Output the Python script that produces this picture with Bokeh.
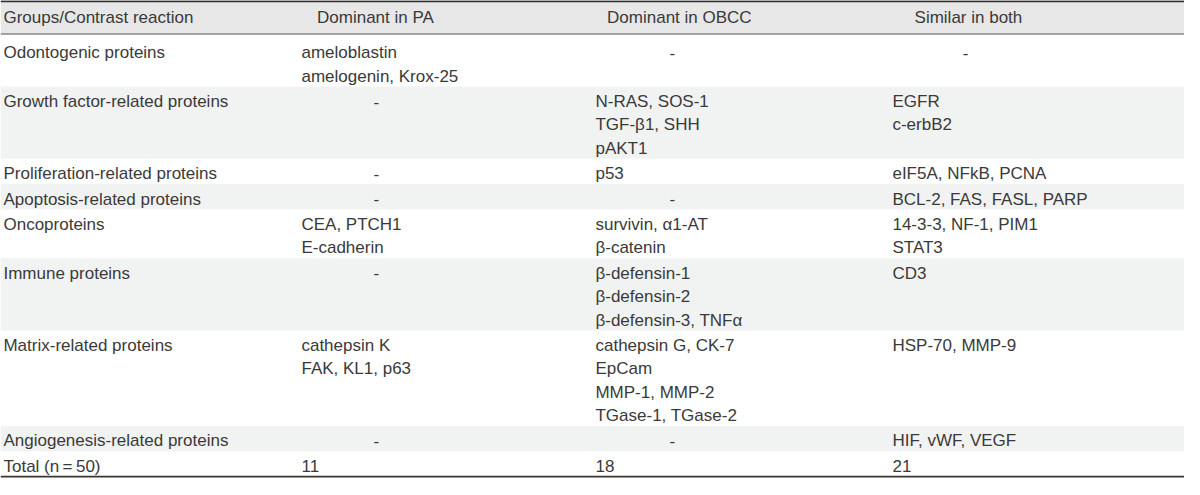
from bokeh.plotting import figure
from bokeh.models import Range1d, ColumnDataSource
from bokeh.core.properties import value
from bokeh.embed import file_html
from bokeh.resources import INLINE

# ---- data ----
headers = ["Groups/Contrast reaction", "Dominant in PA", "Dominant in OBCC", "Similar in both"]
groups = ["Odontogenic proteins", "Growth factor-related proteins", "Proliferation-related proteins",
          "Apoptosis-related proteins", "Oncoproteins", "Immune proteins", "Matrix-related proteins",
          "Angiogenesis-related proteins", "Total (n\u2009=\u200950)"]
dominant_pa = [["ameloblastin", "amelogenin, Krox-25"], ["-"], ["-"], ["-"],
               ["CEA, PTCH1", "E-cadherin"], ["-"], ["cathepsin K", "FAK, KL1, p63"], ["-"], ["11"]]
dominant_obcc = [["-"], ["N-RAS, SOS-1", "TGF-\u03b21, SHH", "pAKT1"], ["p53"], ["-"],
                 ["survivin, \u03b11-AT", "\u03b2-catenin"],
                 ["\u03b2-defensin-1", "\u03b2-defensin-2", "\u03b2-defensin-3, TNF\u03b1"],
                 ["cathepsin G, CK-7", "EpCam", "MMP-1, MMP-2", "TGase-1, TGase-2"], ["-"], ["18"]]
similar_both = [["-"], ["EGFR", "c-erbB2"], ["eIF5A, NFkB, PCNA"], ["BCL-2, FAS, FASL, PARP"],
                ["14-3-3, NF-1, PIM1", "STAT3"], ["CD3"], ["HSP-70, MMP-9"], ["HIF, vWF, VEGF"], ["21"]]

# ---- layout (reference pixel units) ----
W, H = 1200, 495
header_h = 35
line_h = 24.2
pad = 2.0
first_extra = 3.5
first_off = 15.5
col_left = [3, 305, 603, 904]
col_center = [None, 380, 688, 981]
dash_center = [None, 381, 681, 978]
FONT = "Liberation Sans"
FS = "17px"
TXT = "#3a3a3a"

p = figure(width=1184, height=479, output_backend="svg", toolbar_location=None,
           x_range=Range1d(0, W), y_range=Range1d(H, 0), min_border=0)
p.axis.visible = False
p.grid.visible = False
p.outline_line_color = None
p.background_fill_color = "white"
p.border_fill_color = "white"

columns = [[[g] for g in groups], dominant_pa, dominant_obcc, similar_both]
nlines = [max(len(c[i]) for c in columns) for i in range(len(groups))]

tops, bottoms, text_tops = [], [], []
y = header_h
for r, n in enumerate(nlines):
    extra = first_extra if r == 0 else 0.0
    tops.append(y)
    text_tops.append(y + extra)
    y += n * line_h + pad + extra
    bottoms.append(y)
table_bottom = y

# backgrounds
p.quad(left=[0], right=[W], top=[1.5], bottom=[header_h], fill_color="#e7e7e7", line_color=None)
alt_t = [tops[i] for i in range(len(tops)) if i % 2 == 1]
alt_b = [bottoms[i] for i in range(len(tops)) if i % 2 == 1]
p.quad(left=[0] * len(alt_t), right=[W] * len(alt_t), top=alt_t, bottom=alt_b,
       fill_color="#f1f2f2", line_color=None)

# rules
p.segment(x0=[0], y0=[0.8], x1=[W], y1=[0.8], line_color="#2f2f2f", line_width=1.8)
p.segment(x0=[0], y0=[header_h - 0.5], x1=[W], y1=[header_h - 0.5], line_color="#8a8a8a", line_width=1.5)
p.segment(x0=[0], y0=[table_bottom], x1=[W], y1=[table_bottom], line_color="#3a3531", line_width=1.8)

# texts
xs, ys, ts, al = [], [], [], []
for c, h in enumerate(headers):
    if c == 0:
        xs.append(col_left[0]); al.append("left")
    else:
        xs.append(col_center[c]); al.append("center")
    ys.append(header_h / 2 + 0.5); ts.append(h)

for r in range(len(groups)):
    for c, col in enumerate(columns):
        for i, t in enumerate(col[r]):
            yy = text_tops[r] + first_off + i * line_h
            if t == "-":
                xs.append(dash_center[c]); al.append("center")
            else:
                xs.append(col_left[c]); al.append("left")
            ys.append(yy); ts.append(t)

src = ColumnDataSource(dict(x=xs, y=ys, text=ts, align=al))
p.text(x="x", y="y", text="text", text_align="align", source=src, text_baseline="middle",
       text_font=value(FONT), text_font_size=FS, text_color=TXT)

open("out.html", "w").write(file_html(p, INLINE))
